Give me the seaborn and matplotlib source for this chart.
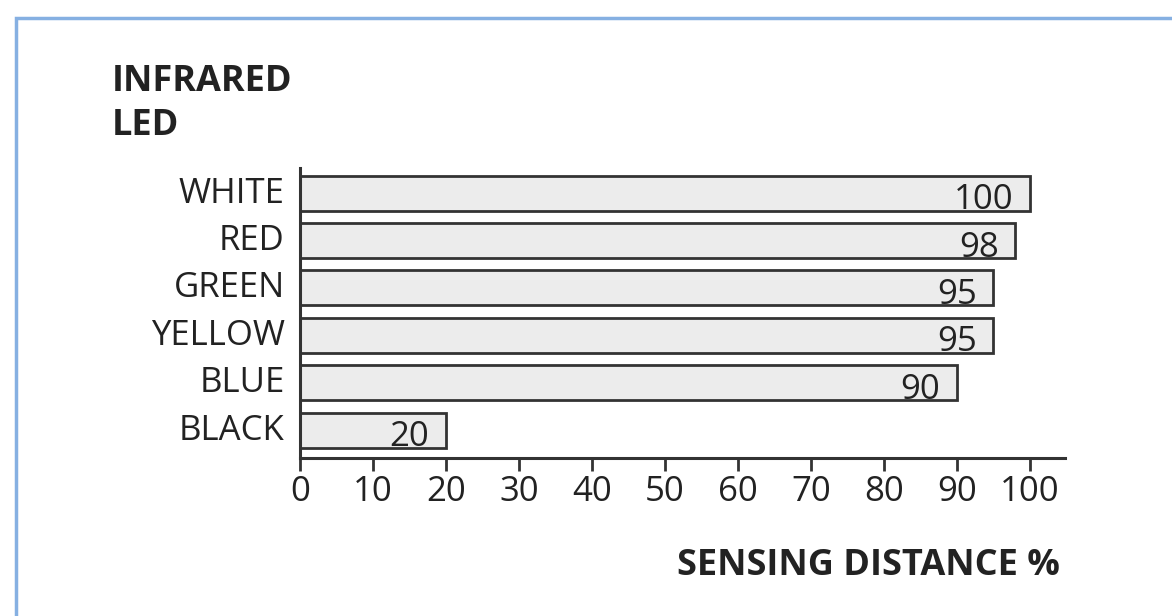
import matplotlib
matplotlib.use("Agg")
import matplotlib.pyplot as plt
import matplotlib.transforms as mtransforms
import seaborn as sns
from matplotlib.patches import Rectangle

# data
colors = ["WHITE", "RED", "GREEN", "YELLOW", "BLUE", "BLACK"]
distance = [100, 98, 95, 95, 90, 20]
ticks = [0, 10, 20, 30, 40, 50, 60, 70, 80, 90, 100]

sns.set_style("white")
plt.rcParams["font.family"] = ["Open Sans", "DejaVu Sans"]

W, H = 1172, 616
fig = plt.figure(figsize=(W / 100, H / 100), dpi=100)

# light blue frame of the scan
fig.patches.append(Rectangle((16 / W, -0.1), 1.2, 1 - 18 / H + 0.1,
                             transform=fig.transFigure, fill=False,
                             edgecolor="#86b0e2", linewidth=2.5))

ax = fig.add_axes([300 / W, 1 - 458 / H, 765 / W, 290 / H])
sns.barplot(x=distance, y=colors, ax=ax, orient="h", color="#ececec",
            saturation=1, edgecolor="#333333", linewidth=2, width=0.74)

for i, v in enumerate(distance):
    ax.text(v - 2.3, i + 0.15, str(v), ha="right", va="center",
            fontsize=25, color="#222222")

ax.set_xlim(0, 104.8)
ax.set_ylim(5.59, -0.53)
ax.set_xticks(ticks)
ax.set_xticklabels([str(t) for t in ticks], fontsize=25, color="#222222")
ax.tick_params(axis="x", direction="out", length=9, width=2, color="#333333", pad=3, bottom=True)
ax.tick_params(axis="y", length=0, labelsize=25, labelcolor="#222222", pad=11)
ax.set_xlabel("")
ax.set_ylabel("")
ax.set_facecolor("none")
for s in ["top", "right"]:
    ax.spines[s].set_visible(False)
for s in ["left", "bottom"]:
    ax.spines[s].set_color("#333333")
    ax.spines[s].set_linewidth(2.2)

# category labels sit a bit above the bar centres in the scan
shift = mtransforms.ScaledTranslation(0, 3.5 / 100, fig.dpi_scale_trans)
for lab in ax.get_yticklabels():
    lab.set_transform(lab.get_transform() + shift)

fig.text(112 / W, 1 - 64 / H, "INFRARED\nLED", ha="left", va="top",
         fontsize=26, fontweight="bold", color="#222222", linespacing=1.3)
fig.text(1060 / W, 1 - 566 / H, "SENSING DISTANCE %", ha="right", va="center",
         fontsize=26, fontweight="bold", color="#222222")

fig.savefig("out.png", dpi=100)
